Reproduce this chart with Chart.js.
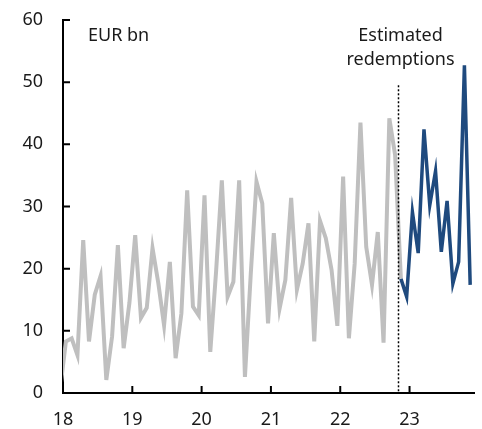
<!DOCTYPE html>
<html>
<head>
<meta charset="utf-8">
<script src="https://cdn.jsdelivr.net/npm/chart.js@4.4.1/dist/chart.umd.min.js"></script>
<style>
  html, body { margin: 0; padding: 0; background: #fff; }
  #wrap { width: 482px; height: 429px; position: relative; }
</style>
</head>
<body>
<div id="wrap"><canvas id="redemptionsChart"></canvas></div>
<script>
// monthly amounts, EUR bn
const historyStart = '2017-12';
const historyValues = [
  0.5,
  8.3, 8.8, 6.1, 24.6, 8.3, 15.8, 18.8, 2.1, 9.1, 23.8, 7.2, 14.5,
  25.4, 12.1, 13.7, 23.3, 17.7, 10.9, 21.1, 5.6, 12.8, 32.6, 13.9, 12.5,
  31.8, 6.6, 19.5, 34.2, 15.5, 17.9, 34.2, 2.6, 19.0, 34.0, 30.5, 11.2,
  25.7, 13.6, 18.2, 31.4, 16.6, 20.8, 27.3, 8.3, 27.7, 24.9, 19.8, 10.8,
  34.8, 8.8, 20.8, 43.5, 23.5, 17.4, 25.9, 8.1, 44.2, 38.3, 18.4
];
const estimateStart = '2022-11';
const estimateValues = [18.4, 15.5, 29.1, 22.5, 42.4, 30.2, 35.7, 22.7, 30.9, 17.6, 21.1, 52.7, 17.4];

const xTicks = [18, 19, 20, 21, 22, 23];
const yTicks = [0, 10, 20, 30, 40, 50, 60];
const unitLabel = 'EUR bn';
const estimateLabel = ['Estimated', 'redemptions'];
const estimateFrom = 22.834; // where the dotted divider sits

// month 'YYYY-MM' -> position in years (mid-month), e.g. 18.04
function toPos(ym, offset) {
  const [y, m] = ym.split('-').map(Number);
  const idx = (y - 2000) * 12 + (m - 1) + offset;
  return Math.floor(idx / 12) + ((idx % 12) + 0.5) / 12;
}
const toPoints = (start, vals) => vals.map((v, i) => ({ x: toPos(start, i), y: v }));

const FONT = '"Noto Sans", "Open Sans", sans-serif';
const INK = '#1a1a1a';

const overlay = {
  id: 'overlay',
  afterDatasetsDraw(chart) {
    const { ctx, chartArea, scales: { x, y } } = chart;
    ctx.save();
    ctx.strokeStyle = '#000';
    ctx.lineWidth = 2;
    ctx.beginPath();
    yTicks.forEach(v => {
      const py = y.getPixelForValue(v);
      ctx.moveTo(chartArea.left, py);
      ctx.lineTo(chartArea.left + 7, py);
    });
    xTicks.forEach(v => {
      const px = x.getPixelForValue(v);
      ctx.moveTo(px, chartArea.bottom);
      ctx.lineTo(px, chartArea.bottom - 7);
    });
    ctx.stroke();

    // dotted divider
    const dx = Math.round(x.getPixelForValue(estimateFrom)) + 0.5;
    ctx.lineWidth = 1.5;
    ctx.setLineDash([2, 2]);
    ctx.beginPath();
    ctx.moveTo(dx, y.getPixelForValue(49.5));
    ctx.lineTo(dx, chartArea.bottom);
    ctx.stroke();
    ctx.setLineDash([]);

    ctx.fillStyle = INK;
    ctx.font = '18px ' + FONT;
    ctx.textBaseline = 'middle';
    ctx.textAlign = 'left';
    ctx.fillText(unitLabel, chartArea.left + 25, 36);
    ctx.textAlign = 'center';
    ctx.fillText(estimateLabel[0], 400.5, 36);
    ctx.fillText(estimateLabel[1], 400.5, 60);
    ctx.restore();
  }
};

new Chart(document.getElementById('redemptionsChart').getContext('2d'), {
  type: 'line',
  data: {
    datasets: [
      {
        data: toPoints(historyStart, historyValues),
        borderColor: '#bfbfbf',
        borderWidth: 4,
        pointRadius: 0,
        tension: 0,
        clip: 0
      },
      {
        data: toPoints(estimateStart, estimateValues),
        borderColor: '#1f4a7e',
        borderWidth: 3.5,
        pointRadius: 0,
        tension: 0
      }
    ]
  },
  options: {
    responsive: true,
    maintainAspectRatio: false,
    animation: false,
    layout: { padding: { top: 20, right: 8, left: 0, bottom: 0 } },
    plugins: { legend: { display: false }, tooltip: { enabled: false } },
    scales: {
      x: {
        type: 'linear',
        min: 18,
        max: 23.93,
        afterBuildTicks: s => { s.ticks = xTicks.map(v => ({ value: v })); },
        afterFit: s => { s.height = 36; s.paddingLeft = 0; s.paddingRight = 0; },
        grid: { drawOnChartArea: false, drawTicks: false },
        border: { color: '#000', width: 2 },
        ticks: { padding: 16, color: INK, font: { size: 18, family: FONT }, maxRotation: 0, callback: v => String(v) }
      },
      y: {
        min: 0,
        max: 60,
        afterBuildTicks: s => { s.ticks = yTicks.map(v => ({ value: v })); },
        afterFit: s => { s.width = 63; s.paddingTop = 0; s.paddingBottom = 0; },
        grid: { drawOnChartArea: false, drawTicks: false },
        border: { color: '#000', width: 2 },
        ticks: { padding: 20, color: INK, font: { size: 18, family: FONT } }
      }
    }
  },
  plugins: [overlay]
});
</script>
</body>
</html>
